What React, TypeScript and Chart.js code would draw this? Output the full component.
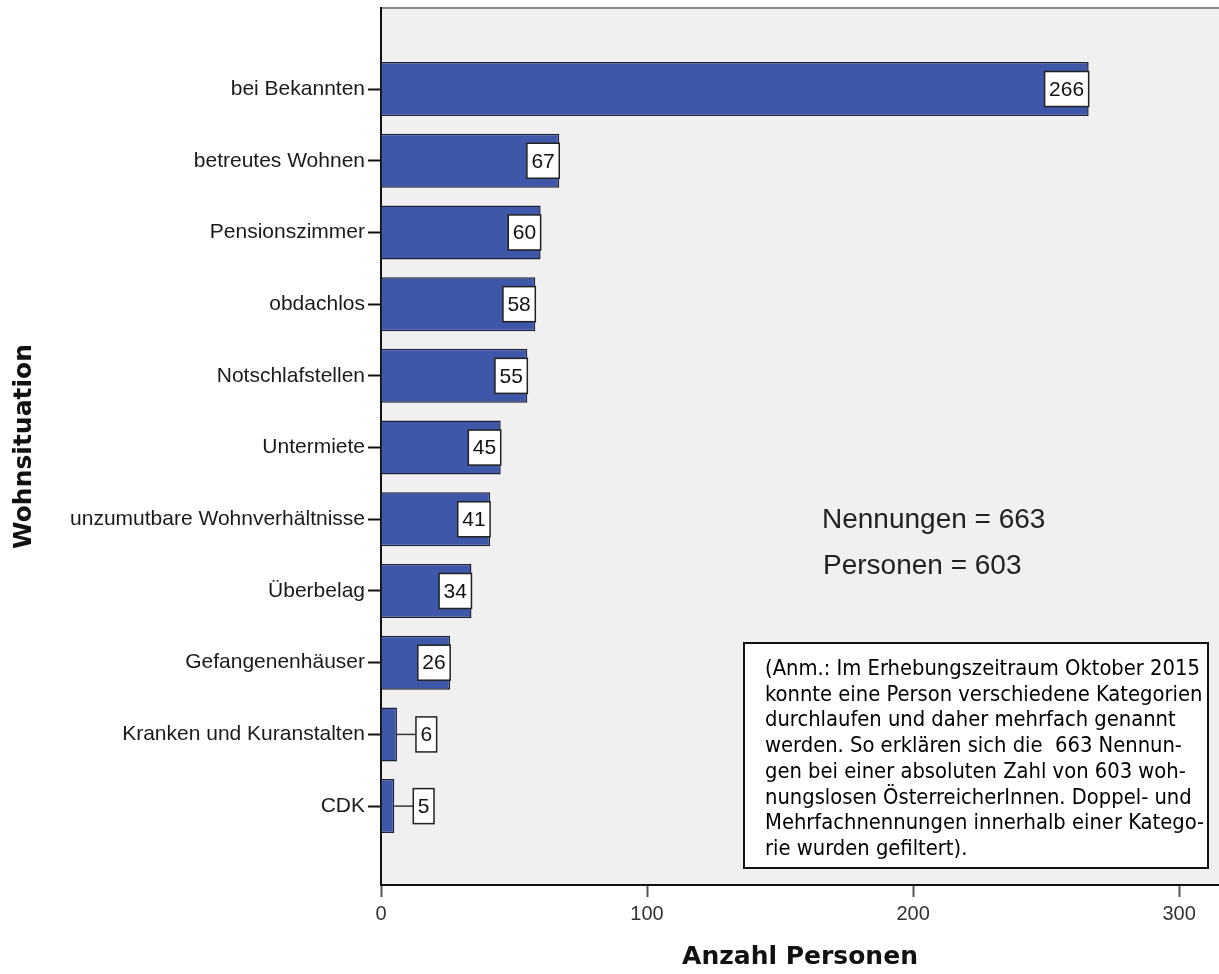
import React, { useEffect, useRef } from "react";
import { Chart, registerables } from "chart.js";

Chart.register(...registerables);

const categories = [
  "bei Bekannten",
  "betreutes Wohnen",
  "Pensionszimmer",
  "obdachlos",
  "Notschlafstellen",
  "Untermiete",
  "unzumutbare Wohnverhältnisse",
  "Überbelag",
  "Gefangenenhäuser",
  "Kranken und Kuranstalten",
  "CDK",
];
const counts = [266, 67, 60, 58, 55, 45, 41, 34, 26, 6, 5];
const xTickValues = [0, 100, 200, 300];
const summaryLines = ["Nennungen = 663", "Personen = 603"];
const noteLines = [
  "(Anm.: Im Erhebungszeitraum Oktober 2015",
  "konnte eine Person verschiedene Kategorien",
  "durchlaufen und daher mehrfach genannt",
  "werden. So erklären sich die  663 Nennun-",
  "gen bei einer absoluten Zahl von 603 woh-",
  "nungslosen ÖsterreicherInnen. Doppel- und",
  "Mehrfachnennungen innerhalb einer Katego-",
  "rie wurden gefiltert).",
];

const W = 1219;
const H = 974;
const LABEL_FONT = "'Liberation Sans', Arial, sans-serif";
const TITLE_FONT = "'DejaVu Sans', Verdana, sans-serif";
const NOTE_FONT = "'DejaVu Sans Condensed', 'DejaVu Sans', Tahoma, sans-serif";

const backgroundPlugin = {
  id: "spssBackground",
  beforeDraw(chart: any) {
    const { ctx, chartArea: a } = chart;
    ctx.save();
    ctx.fillStyle = "#ffffff";
    ctx.fillRect(0, 0, chart.width, chart.height);
    ctx.fillStyle = "#f0f0f0";
    ctx.fillRect(a.left, a.top, a.right - a.left, a.bottom - a.top);
    ctx.strokeStyle = "#8a8a8a";
    ctx.lineWidth = 2;
    ctx.beginPath();
    ctx.moveTo(a.left, a.top);
    ctx.lineTo(a.right, a.top);
    ctx.stroke();
    ctx.restore();
  },
};

const valueLabelPlugin = {
  id: "valueLabels",
  afterDatasetsDraw(chart: any) {
    const { ctx } = chart;
    const meta = chart.getDatasetMeta(0);
    ctx.save();
    ctx.font = `21px ${LABEL_FONT}`;
    ctx.textAlign = "center";
    ctx.textBaseline = "middle";
    meta.data.forEach((bar: any, i: number) => {
      const text = String(counts[i]);
      const tw = ctx.measureText(text).width;
      const bw = tw + 9;
      const bh = 35;
      const barLen = bar.x - bar.base;
      let bx: number;
      const by = bar.y - bh / 2;
      if (bw + 4 < barLen) {
        bx = bar.x - bw;
      } else {
        bx = bar.x + 19;
        ctx.strokeStyle = "#333";
        ctx.lineWidth = 1.5;
        ctx.beginPath();
        ctx.moveTo(bar.x, bar.y);
        ctx.lineTo(bx, bar.y);
        ctx.stroke();
      }
      ctx.fillStyle = "#ffffff";
      ctx.fillRect(bx, by, bw, bh);
      ctx.strokeStyle = "#222";
      ctx.lineWidth = 1.5;
      ctx.strokeRect(bx, by, bw, bh);
      ctx.fillStyle = "#111";
      ctx.fillText(text, bx + bw / 2, bar.y + 1);
    });
    ctx.restore();
  },
};

const annotationPlugin = {
  id: "annotations",
  afterDraw(chart: any) {
    const { ctx, chartArea: a } = chart;
    ctx.save();
    // summary text
    ctx.fillStyle = "#222";
    ctx.font = `28px ${LABEL_FONT}`;
    ctx.textAlign = "left";
    ctx.textBaseline = "alphabetic";
    ctx.fillText(summaryLines[0], a.left + 441, a.top + 520);
    ctx.fillText(summaryLines[1], a.left + 442, a.top + 566);

    // note box
    const bx = a.left + 363;
    const by = a.top + 635;
    const bw = 464;
    const bh = 225;
    ctx.fillStyle = "#ffffff";
    ctx.fillRect(bx, by, bw, bh);
    ctx.strokeStyle = "#111";
    ctx.lineWidth = 2;
    ctx.strokeRect(bx, by, bw, bh);

    let size = 26;
    const fit = () => {
      ctx.font = `${size}px ${NOTE_FONT}`;
      return Math.max(...noteLines.map((l) => ctx.measureText(l).width));
    };
    while (fit() > 440 && size > 10) size -= 0.25;
    ctx.fillStyle = "#000";
    noteLines.forEach((line, i) => {
      ctx.fillText(line, bx + 21, by + 32 + i * 25.7);
    });
    ctx.restore();
  },
};

export default function App() {
  const canvasRef = useRef<HTMLCanvasElement | null>(null);

  useEffect(() => {
    document.body.style.margin = "0";
    const canvas = canvasRef.current;
    if (!canvas) return;
    const chart = new Chart(canvas, {
      type: "bar",
      data: {
        datasets: [
          {
            data: counts.map((v, i) => ({ x: v, y: i })) as any,
            backgroundColor: "#3e57a8",
            borderColor: "#1d2238",
            borderWidth: 1.5,
            categoryPercentage: 1,
            barPercentage: 0.753,
          },
        ],
      },
      options: {
        indexAxis: "y",
        responsive: false,
        animation: false,
        devicePixelRatio: 1,
        layout: { padding: { top: 8, left: 0, right: 0, bottom: 0 } },
        plugins: {
          legend: { display: false },
          tooltip: { enabled: false },
        },
        scales: {
          x: {
            type: "linear",
            position: "bottom",
            min: 0,
            max: 315,
            afterBuildTicks: (scale: any) => {
              scale.ticks = xTickValues.map((v) => ({ value: v }));
            },
            afterFit: (scale: any) => {
              scale.height = 89;
              scale.paddingLeft = 0;
              scale.paddingRight = 0;
            },
            ticks: {
              font: { family: LABEL_FONT, size: 20 },
              color: "#333",
              padding: 5,
            },
            grid: {
              drawOnChartArea: false,
              drawTicks: true,
              tickLength: 12,
              tickColor: "#555",
              tickWidth: 2,
            },
            border: { display: true, color: "#111", width: 2 },
            title: {
              display: true,
              text: "Anzahl Personen",
              font: { family: TITLE_FONT, size: 25, weight: "bold" },
              color: "#111",
              padding: { top: 0, bottom: 2 },
            },
          },
          y: {
            type: "linear",
            reverse: true,
            offset: false,
            min: -1.13,
            max: 11.1,
            afterBuildTicks: (scale: any) => {
              scale.ticks = categories.map((_, i) => ({ value: i }));
            },
            afterFit: (scale: any) => {
              scale.width = 381;
              scale.paddingTop = 0;
              scale.paddingBottom = 0;
            },
            ticks: {
              autoSkip: false,
              callback: (value: any) => categories[value as number] ?? "",
              font: { family: LABEL_FONT, size: 21 },
              color: "#1a1a1a",
              padding: 3,
            },
            grid: {
              offset: false,
              drawOnChartArea: false,
              drawTicks: true,
              tickLength: 13,
              tickColor: "#111",
              tickWidth: 2,
            },
            border: { display: true, color: "#111", width: 2 },
            title: {
              display: true,
              text: "Wohnsituation",
              font: { family: TITLE_FONT, size: 25, weight: "bold" },
              color: "#111",
              padding: { top: 9, bottom: 0 },
            },
          },
        },
      },
      plugins: [backgroundPlugin, valueLabelPlugin, annotationPlugin],
    } as any);
    return () => chart.destroy();
  }, []);

  return (
    <div style={{ width: W, height: H }}>
      <canvas ref={canvasRef} width={W} height={H} style={{ display: "block", width: W, height: H }} />
    </div>
  );
}
